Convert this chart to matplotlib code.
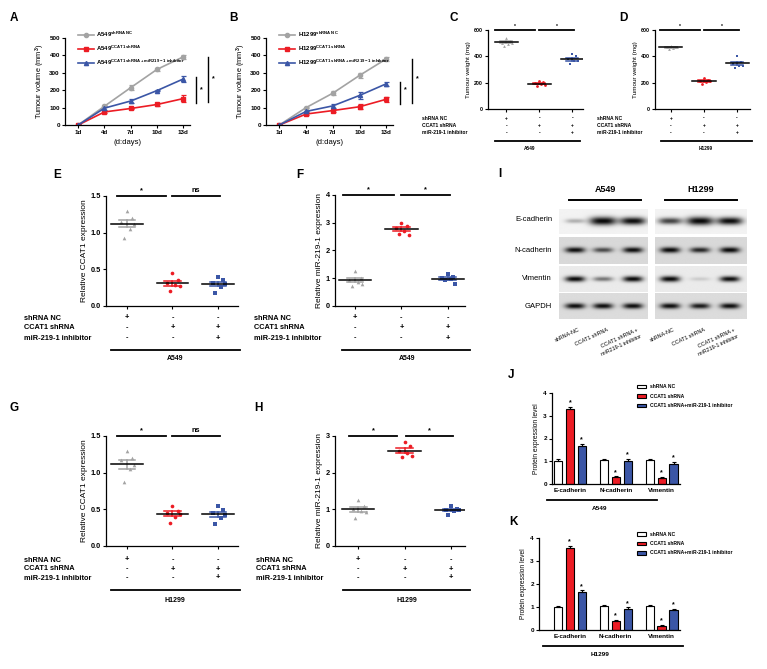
import numpy as np
import matplotlib
matplotlib.use('Agg')
import matplotlib.pyplot as plt
import matplotlib.transforms as mtransforms
from matplotlib.lines import Line2D
from matplotlib.patches import Patch

plt.rcParams['font.family'] = ['Liberation Sans', 'DejaVu Sans']
plt.rcParams['font.weight'] = 'bold'
plt.rcParams['axes.linewidth'] = 0.9
plt.rcParams['mathtext.fontset'] = 'custom'
plt.rcParams['mathtext.rm'] = 'Liberation Sans:bold'
plt.rcParams['mathtext.bf'] = 'Liberation Sans:bold'
plt.rcParams['mathtext.it'] = 'Liberation Sans:bold'

W, H = 767, 669
GRAY = '#a3a3a3'
RED = '#ec1c24'
BLUE = '#3b56a6'

# ---------------- data ----------------
days = ['1d', '4d', '7d', '10d', '13d']
# panel A (A549 tumour volume)
a_nc = [0, 108, 215, 320, 392]
a_nc_err = [3, 6, 15, 10, 12]
a_sh = [0, 75, 95, 118, 152]
a_sh_err = [3, 5, 5, 10, 20]
a_inh = [0, 97, 138, 198, 265]
a_inh_err = [3, 12, 12, 5, 18]
# panel B (H1299 tumour volume)
b_nc = [0, 100, 183, 285, 380]
b_nc_err = [3, 5, 10, 15, 10]
b_sh = [0, 63, 83, 105, 148]
b_sh_err = [3, 8, 8, 15, 15]
b_inh = [0, 78, 110, 170, 237]
b_inh_err = [3, 5, 12, 18, 12]

# tumour weight (mg)
c_nc = [540, 515, 505, 495, 480, 500]
c_sh = [210, 205, 198, 190, 172, 185]
c_inh = [420, 400, 380, 365, 340, 365]
d_nc = [482, 472, 468, 460, 455, 470]
d_sh = [235, 222, 212, 205, 188, 210]
d_inh = [400, 360, 345, 330, 310, 330]

# relative expression
e_nc = [1.29, 1.20, 1.15, 1.05, 0.93, 1.12]
e_sh = [0.45, 0.35, 0.31, 0.28, 0.21, 0.27]
e_inh = [0.40, 0.35, 0.31, 0.26, 0.18, 0.30]
f_nc = [1.25, 1.00, 0.95, 0.85, 0.72, 0.78]
f_sh = [3.00, 2.90, 2.80, 2.70, 2.60, 2.55]
f_inh = [1.15, 1.05, 1.00, 0.98, 0.95, 0.80]
g_nc = [1.30, 1.20, 1.17, 1.05, 0.87, 1.10]
g_sh = [0.55, 0.48, 0.45, 0.40, 0.31, 0.44]
g_inh = [0.54, 0.49, 0.45, 0.38, 0.30, 0.42]
h_nc = [1.25, 1.08, 1.02, 0.95, 0.77, 0.93]
h_sh = [2.85, 2.72, 2.60, 2.55, 2.42, 2.46]
h_inh = [1.10, 1.02, 0.98, 0.95, 0.85, 0.97]

# western blot band intensities (rows: E-cadherin, N-cadherin, Vimentin, GAPDH)
blot_rows = ['E-cadherin', 'N-cadherin', 'Vimentin', 'GAPDH']
blot_a549 = [[0.25, 1.00, 0.85], [0.85, 0.60, 0.85], [0.90, 0.45, 0.90], [0.85, 0.85, 0.85]]
blot_h1299 = [[0.65, 1.00, 0.85], [0.90, 0.75, 0.90], [0.95, 0.12, 0.85], [0.85, 0.80, 0.85]]
lane_names = ['shRNA-NC', 'CCAT1 shRNA', 'CCAT1 shRNA +\nmiR219-1 inhibitor']

# protein expression level
proteins = ['E-cadherin', 'N-cadherin', 'Vimentin']
j_nc = [1.00, 1.05, 1.05]
j_nc_err = [0.08, 0.04, 0.04]
j_sh = [3.30, 0.30, 0.25]
j_sh_err = [0.10, 0.04, 0.05]
j_inh = [1.65, 1.02, 0.90]
j_inh_err = [0.12, 0.10, 0.06]
k_nc = [1.00, 1.05, 1.05]
k_nc_err = [0.05, 0.04, 0.05]
k_sh = [3.55, 0.38, 0.17]
k_sh_err = [0.10, 0.06, 0.05]
k_inh = [1.65, 0.93, 0.85]
k_inh_err = [0.08, 0.05, 0.07]

table_rows = ['shRNA NC', 'CCAT1 shRNA', 'miR-219-1 inhibitor']
table_signs = [['+', '-', '-'], ['-', '+', '+'], ['-', '-', '+']]

fig = plt.figure(figsize=(W / 100, H / 100), dpi=100)


def box(l, t, r, b):
    return [l / W, 1 - b / H, (r - l) / W, (b - t) / H]


def fx(px):
    return px / W


def fy(py):
    return 1 - py / H


def letter(px, py, s):
    fig.text(fx(px), fy(py), s, fontsize=8.5, fontweight='bold', ha='center', va='center')


def style(ax, fs):
    for s in ['top', 'right']:
        ax.spines[s].set_visible(False)
    ax.tick_params(length=2.2, width=0.8, labelsize=fs, pad=1.5)


def hline_fig(x0, x1, y, lw=1.3):
    fig.add_artist(Line2D([fx(x0), fx(x1)], [fy(y), fy(y)], color='k', lw=lw))


# ---------------- growth curves ----------------
def growth(ax, cell, nc, nce, sh, she, inh, inhe, sig_x, leg_xy):
    x = np.arange(len(days))
    series = [(nc, nce, GRAY, 'o', 'shRNA\\ NC'),
              (sh, she, RED, 's', 'CCAT1\\ shRNA'),
              (inh, inhe, BLUE, '^', 'CCAT1\\ shRNA+miR219-1\\ inhibitor')]
    handles = []
    for vals, err, col, mk, sup in series:
        ax.errorbar(x, vals, yerr=err, color=col, marker=mk, ms=3, lw=1.2,
                    elinewidth=0.9, capsize=1.8, capthick=0.9)
        handles.append(Line2D([], [], color=col, marker=mk, ms=3, lw=1.2,
                              label=cell + r'$^{\mathrm{' + sup + '}}$'))
    ax.set_xlim(-0.5, 4.25)
    ax.set_ylim(0, 500)
    ax.set_xticks(x)
    ax.set_xticklabels(days)
    ax.set_yticks(range(0, 501, 100))
    style(ax, 4.5)
    ax.set_xlabel('(d:days)', fontsize=5.5, labelpad=3)
    ax.set_ylabel('Tumour volume (mm$^{\\mathrm{3}}$)', fontsize=5.3, labelpad=2)
    ax.legend(handles=handles, loc='upper left', bbox_to_anchor=(fx(leg_xy[0]), fy(leg_xy[1])),
              bbox_transform=fig.transFigure, frameon=False, fontsize=4.3,
              handlelength=2.6, labelspacing=0.75, handletextpad=0.5, borderpad=0)
    # significance brackets
    x1, x2 = sig_x
    ax.plot([x1, x1], [inh[-1] + 10, sh[-1] - 25], color='k', lw=1.0, clip_on=False)
    ax.text(x1 + 0.18, 200, '*', fontsize=5, ha='center', va='center')
    ax.plot([x2, x2], [nc[-1], sh[-1] - 20], color='k', lw=1.0, clip_on=False)
    ax.text(x2 + 0.18, 265, '*', fontsize=5, ha='center', va='center')


axA = fig.add_axes(box(65, 38, 190, 125))
growth(axA, 'A549', a_nc, a_nc_err, a_sh, a_sh_err, a_inh, a_inh_err, (4.49, 4.94), (75, 27))
axB = fig.add_axes(box(266, 38, 393, 125))
growth(axB, 'H1299', b_nc, b_nc_err, b_sh, b_sh_err, b_inh, b_inh_err, (4.52, 4.97), (276, 27))
letter(14, 18, 'A')
letter(233, 18, 'B')


# ---------------- dot plots ----------------
def dots(ax, groups, ytop, yticks, yfmt, ylabel, fs, lfs, ms, spread, sigs,
         rows_y, text_x, under, cell_xy, tfs):
    offs = np.array([0.0, 0.6, -0.6, 0.3, -0.3, 0.8])
    for i, (vals, col, mk) in enumerate(groups, start=1):
        v = np.array(vals, dtype=float)
        ax.scatter(i + offs[:len(v)] * spread, v, s=ms, color=col, marker=mk,
                   linewidths=0, zorder=3, clip_on=False)
        m = v.mean()
        se = v.std(ddof=1) / np.sqrt(len(v))
        ax.plot([i - 0.35, i + 0.35], [m, m], color='k', lw=1.1, zorder=4)
        ax.plot([i, i], [m - se, m + se], color=col, lw=1.1, zorder=2)
        for yy in (m - se, m + se):
            ax.plot([i - 0.18, i + 0.18], [yy, yy], color=col, lw=1.1, zorder=2)
    ax.set_ylim(0, ytop)
    ax.set_yticks(yticks)
    ax.set_yticklabels([yfmt.format(t) for t in yticks])
    ax.set_xticks([1, 2, 3])
    ax.set_xticklabels([])
    style(ax, fs)
    ax.set_ylabel(ylabel, fontsize=lfs, labelpad=2)
    for (x0, x1, lab) in sigs:
        ax.plot([x0, x1], [ytop, ytop], color='k', lw=1.3, clip_on=False)
        ax.text((x0 + x1) / 2, ytop + ytop * 0.015, lab, fontsize=tfs, ha='center', va='bottom')
    trans = mtransforms.blended_transform_factory(ax.transData, fig.transFigure)
    for r, (name, signs) in enumerate(zip(table_rows, table_signs)):
        fig.text(fx(text_x), fy(rows_y[r]), name, fontsize=tfs, ha='left', va='center')
        for i, sg in enumerate(signs, start=1):
            ax.text(i, fy(rows_y[r]), sg, transform=trans, fontsize=tfs, ha='center', va='center')
    hline_fig(under[0], under[1], under[2])
    fig.text(fx(cell_xy[0]), fy(cell_xy[1]), cell_xy[2], fontsize=tfs * 0.95, ha='center', va='center')


axC = fig.add_axes(box(488, 30, 583, 109))
axC.set_xlim(0.45, 3.33)
dots(axC, [(c_nc, GRAY, '^'), (c_sh, RED, 'o'), (c_inh, BLUE, 's')], 600, [0, 200, 400, 600], '{:d}',
     'Tumour weight (mg)', 3.8, 4.6, 4, 0.22, [(0.67, 1.88, '*'), (2.0, 3.06, '*')],
     [118, 125.5, 133], 422, (495, 580, 141), (530, 148.5, 'A549'), 3.6)
axD = fig.add_axes(box(655, 30, 750, 109))
axD.set_xlim(0.52, 3.39)
dots(axD, [(d_nc, GRAY, '^'), (d_sh, RED, 'o'), (d_inh, BLUE, 's')], 600, [0, 200, 400, 600], '{:d}',
     'Tumour weight (mg)', 3.8, 4.6, 4, 0.22, [(0.67, 1.88, '*'), (2.0, 3.06, '*')],
     [118, 125.5, 133], 597, (661, 752, 141), (706, 149, 'H1299'), 3.6)
letter(454, 18, 'C')
letter(623, 18, 'D')

axE = fig.add_axes(box(106, 196, 238, 306))
axE.set_xlim(0.54, 3.44)
dots(axE, [(e_nc, GRAY, '^'), (e_sh, RED, 'o'), (e_inh, BLUE, 's')], 1.5, [0, 0.5, 1.0, 1.5], '{:.1f}',
     'Relative CCAT1 expression', 5.3, 6, 7, 0.2, [(0.78, 1.85, '*'), (1.98, 3.04, 'ns')],
     [318, 328, 338], 24, (111, 240, 350), (175, 359, 'A549'), 5.3)
axF = fig.add_axes(box(335, 195, 465, 306))
axF.set_xlim(0.57, 3.37)
dots(axF, [(f_nc, GRAY, '^'), (f_sh, RED, 'o'), (f_inh, BLUE, 's')], 4, [0, 1, 2, 3, 4], '{:d}',
     'Relative miR-219-1 expression', 5.3, 6, 7, 0.2, [(0.75, 1.85, '*'), (2.0, 3.05, '*')],
     [318, 328, 338], 254, (342, 470, 350), (407, 359, 'A549'), 5.3)
axG = fig.add_axes(box(106, 436, 238, 546))
axG.set_xlim(0.54, 3.44)
dots(axG, [(g_nc, GRAY, '^'), (g_sh, RED, 'o'), (g_inh, BLUE, 's')], 1.5, [0, 0.5, 1.0, 1.5], '{:.1f}',
     'Relative CCAT1 expression', 5.3, 6, 7, 0.2, [(0.78, 1.85, '*'), (1.98, 3.04, 'ns')],
     [560, 569, 578], 24, (111, 240, 590), (175, 601, 'H1299'), 5.3)
axH = fig.add_axes(box(335, 436, 465, 546))
axH.set_xlim(0.5, 3.3)
dots(axH, [(h_nc, GRAY, '^'), (h_sh, RED, 'o'), (h_inh, BLUE, 's')], 3, [0, 1, 2, 3], '{:d}',
     'Relative miR-219-1 expression', 5.3, 6, 7, 0.2, [(0.8, 1.84, '*'), (2.03, 3.04, '*')],
     [560, 569, 578], 256, (343, 470, 590), (407, 601, 'H1299'), 5.3)
letter(57, 175, 'E')
letter(300, 175, 'F')
letter(14, 408, 'G')
letter(258, 408, 'H')


# ---------------- western blot ----------------
def blot(x0, x1, lanes, intens):
    ax = fig.add_axes(box(x0, 209, x1, 319))
    rows = [(209, 234, 221, 0.95), (237, 264, 250, 0.85), (266, 292, 279, 0.92), (293, 319, 306, 0.86)]
    xs = np.linspace(x0, x1, 240)
    for (top, bot, yc, bg), vals in zip(rows, intens):
        ys = np.linspace(top, bot, 80)
        X, Y = np.meshgrid(xs, ys)
        img = np.full(X.shape, bg)
        for lx, v in zip(lanes, vals):
            hh = 1.6 + 2.6 * v if top == 209 else 1.8 + 1.2 * v
            ww = 8.5 + 5.0 * v if top == 209 else 10.0
            band = min(v * 1.15, 1.0) * np.exp(-np.abs((X - lx) / ww) ** 3) * np.exp(-((Y - yc) / hh) ** 2)
            img = img - band * bg * 0.97
        ax.imshow(np.clip(img, 0, 1), cmap='gray', vmin=0, vmax=1, extent=(x0, x1, bot, top),
                  aspect='auto', interpolation='bilinear')
    ax.set_xlim(x0, x1)
    ax.set_ylim(319, 209)
    ax.axis('off')
    for lx, name in zip(lanes, lane_names):
        fig.text(fx(lx + 4), fy(327), name, fontsize=3.9, fontweight='normal', rotation=25,
                 rotation_mode='anchor', ha='right', va='top', linespacing=1.6)


a549_lanes = [575, 603, 633]
h1299_lanes = [670, 700, 730]
blot(559, 648, a549_lanes, blot_a549)
blot(655, 747, h1299_lanes, blot_h1299)
for name, yy in zip(blot_rows, [219, 251, 278, 306]):
    fig.text(fx(552), fy(yy), name, fontsize=5.5, fontweight='normal', ha='right', va='center')
fig.text(fx(605), fy(190), 'A549', fontsize=6.5, ha='center', va='center')
fig.text(fx(701), fy(190), 'H1299', fontsize=6.5, ha='center', va='center')
hline_fig(569, 641, 200, lw=1.4)
hline_fig(665, 737, 200, lw=1.4)
letter(500, 174, 'I')


# ---------------- protein bar charts ----------------
def bars(rect, xl, groups, cell, under, cell_xy, leg_xy):
    ax = fig.add_axes(box(*rect))
    x = np.arange(3)
    handles = []
    labels = ['shRNA NC', 'CCAT1 shRNA', 'CCAT1 shRNA+miR-219-1 inhibitor']
    for k, (vals, errs, col) in enumerate(groups):
        pos = x + (k - 1) * 0.26
        ax.bar(pos, vals, 0.18, color=col, edgecolor='k', lw=0.8,
               yerr=[np.zeros(3), errs], error_kw=dict(lw=0.8, capsize=1.5, capthick=0.8, ecolor='k'))
        handles.append(Patch(facecolor=col, edgecolor='k', lw=0.8, label=labels[k]))
        if k:
            for p, v, e in zip(pos, vals, errs):
                ax.text(p, v + e + 0.02, '*', fontsize=5, ha='center', va='bottom')
    ax.set_xlim(*xl)
    ax.set_ylim(0, 4)
    ax.set_yticks([0, 1, 2, 3, 4])
    ax.set_xticks(x)
    ax.set_xticklabels(proteins)
    style(ax, 4.6)
    ax.tick_params(axis='x', length=0, pad=3)
    ax.set_ylabel('Protein expression level', fontsize=4.8, labelpad=2)
    ax.legend(handles=handles, loc='upper left', bbox_to_anchor=(fx(leg_xy[0]), fy(leg_xy[1])),
              bbox_transform=fig.transFigure, frameon=False, fontsize=3.6, handlelength=1.8,
              handleheight=0.7, labelspacing=0.9, handletextpad=0.8, borderpad=0)
    hline_fig(under[0], under[1], under[2])
    fig.text(fx(cell_xy[0]), fy(cell_xy[1]), cell, fontsize=4.6, ha='center', va='center')


bars((552, 393, 680, 484), (-0.39, 2.4), [(j_nc, j_nc_err, 'white'), (j_sh, j_sh_err, RED), (j_inh, j_inh_err, BLUE)],
     'A549', (547, 657, 500), (600, 508), (634, 382))
bars((539, 538, 680, 630), (-0.67, 2.4), [(k_nc, k_nc_err, 'white'), (k_sh, k_sh_err, RED), (k_inh, k_inh_err, BLUE)],
     'H1299', (543, 683, 646), (600, 655), (634, 529))
letter(511, 375, 'J')
letter(513, 522, 'K')

fig.savefig('out.png', dpi=100, facecolor='white')
